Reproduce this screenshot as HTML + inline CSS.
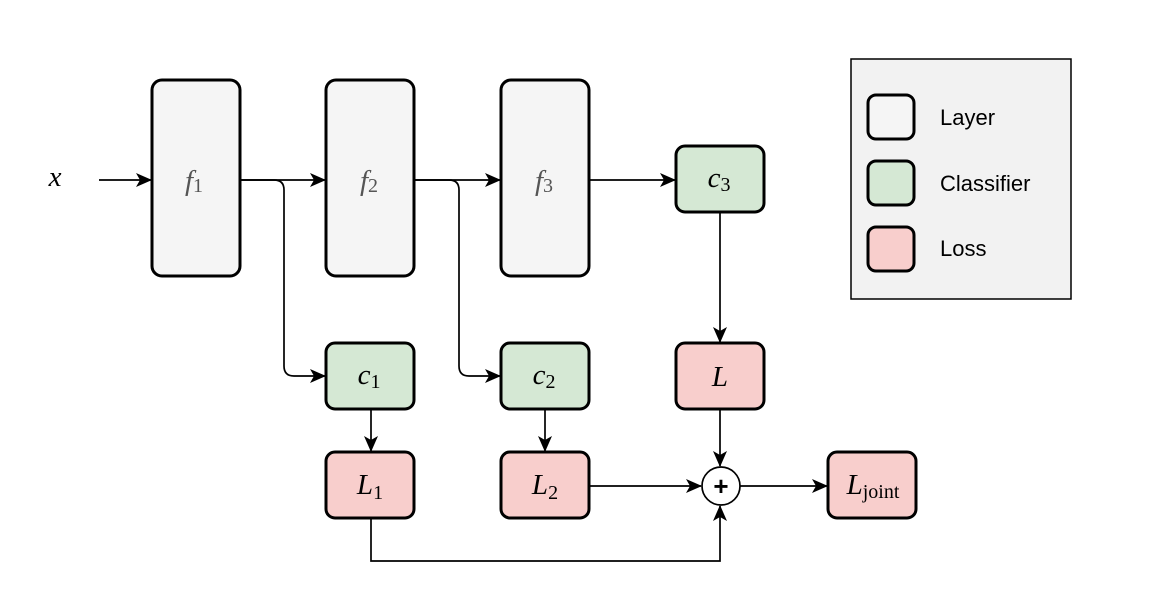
<html><body style="margin:0;background:#fff">
<svg width="1150" height="616" xmlns="http://www.w3.org/2000/svg" font-family="Liberation Serif, serif">
<defs><marker id="a" markerWidth="16" markerHeight="14" refX="15" refY="7" orient="auto" markerUnits="userSpaceOnUse"><path d="M0,0 L16,7 L0,14 L4,7z" fill="#000"/></marker></defs>
<g fill="none" stroke="#000" stroke-width="1.7" marker-end="url(#a)">
<path d="M99,180 H151"/>
<path d="M240,180 H325"/>
<path d="M414,180 H500"/>
<path d="M589,180 H675"/>
<path d="M240,180 H274 Q284,180 284,190 V366 Q284,376 294,376 H325"/>
<path d="M414,180 H449 Q459,180 459,190 V366 Q459,376 469,376 H500"/>
<path d="M720,212 V342"/>
<path d="M371,409 V451"/>
<path d="M545,409 V451"/>
<path d="M720,409 V466"/>
<path d="M589,486 H701"/>
<path d="M740,486 H827"/>
<path d="M371,518 V561 H720 V506"/>
</g>
<g stroke="#000" stroke-width="3">
<rect x="152" y="80" width="88" height="196" rx="10" fill="#f5f5f5"/>
<rect x="326" y="80" width="88" height="196" rx="10" fill="#f5f5f5"/>
<rect x="501" y="80" width="88" height="196" rx="10" fill="#f5f5f5"/>
<rect x="676" y="146" width="88" height="66" rx="9" fill="#d5e8d4"/>
<rect x="326" y="343" width="88" height="66" rx="9" fill="#d5e8d4"/>
<rect x="501" y="343" width="88" height="66" rx="9" fill="#d5e8d4"/>
<rect x="676" y="343" width="88" height="66" rx="9" fill="#f8cecc"/>
<rect x="326" y="452" width="88" height="66" rx="9" fill="#f8cecc"/>
<rect x="501" y="452" width="88" height="66" rx="9" fill="#f8cecc"/>
<rect x="828" y="452" width="88" height="66" rx="9" fill="#f8cecc"/>
</g>
<circle cx="721" cy="486" r="19" fill="#fff" stroke="#000" stroke-width="1.7"/>
<text x="721" y="495" font-family="Liberation Sans, sans-serif" font-weight="bold" font-size="26" text-anchor="middle">+</text>
<rect x="851" y="59" width="220" height="240" fill="#f2f2f2" stroke="#000" stroke-width="1.5"/>
<g stroke="#000" stroke-width="3">
<rect x="868" y="95" width="46" height="44" rx="8" fill="#f5f5f5"/>
<rect x="868" y="161" width="46" height="44" rx="8" fill="#d5e8d4"/>
<rect x="868" y="227" width="46" height="44" rx="8" fill="#f8cecc"/>
</g>
<g font-family="Liberation Sans, sans-serif" font-size="22">
<text x="940" y="125">Layer</text><text x="940" y="191">Classifier</text><text x="940" y="256">Loss</text>
</g>
<g font-size="29" text-anchor="middle" font-style="italic">
<text x="55" y="186">x</text>
<text x="194" y="190" fill="#555">f<tspan font-style="normal" font-size="20" dy="2">1</tspan></text>
<text x="369" y="190" fill="#555">f<tspan font-style="normal" font-size="20" dy="2">2</tspan></text>
<text x="544" y="190" fill="#555">f<tspan font-style="normal" font-size="20" dy="2">3</tspan></text>
<text x="719" y="187">c<tspan font-style="normal" font-size="20" dy="4">3</tspan></text>
<text x="369" y="384">c<tspan font-style="normal" font-size="20" dy="4">1</tspan></text>
<text x="544" y="384">c<tspan font-style="normal" font-size="20" dy="4">2</tspan></text>
<text x="720" y="386">L</text>
<text x="370" y="494">L<tspan font-style="normal" font-size="20" dy="5">1</tspan></text>
<text x="545" y="494">L<tspan font-style="normal" font-size="20" dy="5">2</tspan></text>
<text x="873" y="494">L<tspan font-style="normal" font-size="20" dy="4">joint</tspan></text>
</g>
</svg>
</body></html>
